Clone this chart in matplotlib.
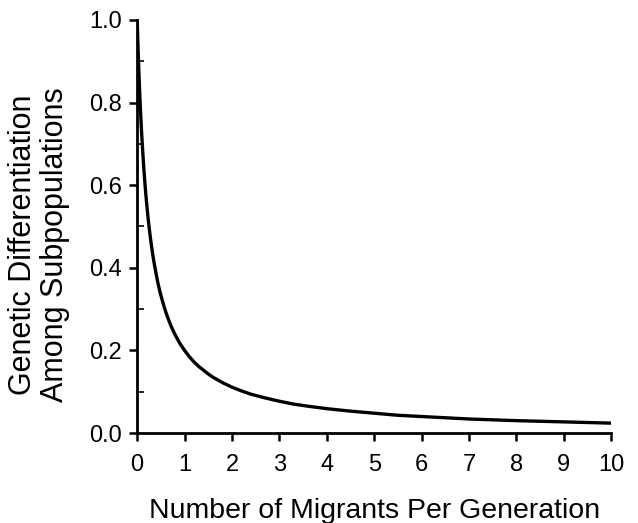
import matplotlib
matplotlib.use("Agg")
import matplotlib.pyplot as plt
from matplotlib.ticker import MultipleLocator

plt.rcParams['font.family'] = ['Liberation Sans', 'DejaVu Sans']

# values
migrants = [0, .01, .02, .03, .04, .05, .06, .07, .08, .09, .1, .12, .14, .16, .18,
            .2, .22, .24, .26, .28, .3, .33, .36, .4, .44, .48, .52, .56, .6, .65,
            .7, .75, .8, .9, 1.0, 1.1, 1.2, 1.3, 1.4, 1.5, 1.6, 1.8, 2.0, 2.2, 2.4,
            2.7, 3.0, 3.3, 3.6, 4.0, 4.5, 5, 5.5, 6, 7, 8, 9, 10]
differentiation = [1.0, .962, .926, .893, .862, .833, .806, .781, .758, .735, .714,
                   .676, .641, .610, .581, .556, .532, .510, .490, .472, .455, .431,
                   .410, .385, .362, .342, .325, .309, .294, .278, .263, .250, .238,
                   .217, .200, .185, .172, .161, .152, .143, .135, .122, .111, .102,
                   .094, .085, .077, .070, .065, .059, .053, .048, .043, .040, .034,
                   .030, .027, .024]
x_ticks = list(range(0, 11))
y_ticks = [0.0, 0.2, 0.4, 0.6, 0.8, 1.0]

fig = plt.figure(figsize=(6.38, 5.23), dpi=100)
ax = fig.add_axes([0.215, 0.172, 0.743, 0.790])
ax.plot(migrants, differentiation, color='black', lw=2.4, solid_capstyle='butt',
        solid_joinstyle='round')
ax.set_xlim(0, 10)
ax.set_ylim(0, 1.0)
ax.set_xticks(x_ticks)
ax.set_yticks(y_ticks)
ax.set_yticklabels([f"{v:.1f}" for v in y_ticks])
ax.yaxis.set_minor_locator(MultipleLocator(0.1))
for s in ['top', 'right']:
    ax.spines[s].set_visible(False)
for s in ['left', 'bottom']:
    ax.spines[s].set_linewidth(2.0)
ax.tick_params(axis='both', which='major', direction='out', length=6, width=1.8,
               labelsize=17, pad=5)
ax.tick_params(axis='x', which='major', pad=9)
ax.tick_params(axis='y', which='minor', direction='in', length=5, width=1.2)
ax.set_xlabel("Number of Migrants Per Generation", fontsize=20.5, labelpad=16)
ax.set_ylabel("Genetic Differentiation\nAmong Subpopulations", fontsize=22,
              linespacing=1.1)
ax.yaxis.set_label_coords((70 - 137) / 474, (433 - 245) / 413)
fig.savefig("out.png", dpi=100)
